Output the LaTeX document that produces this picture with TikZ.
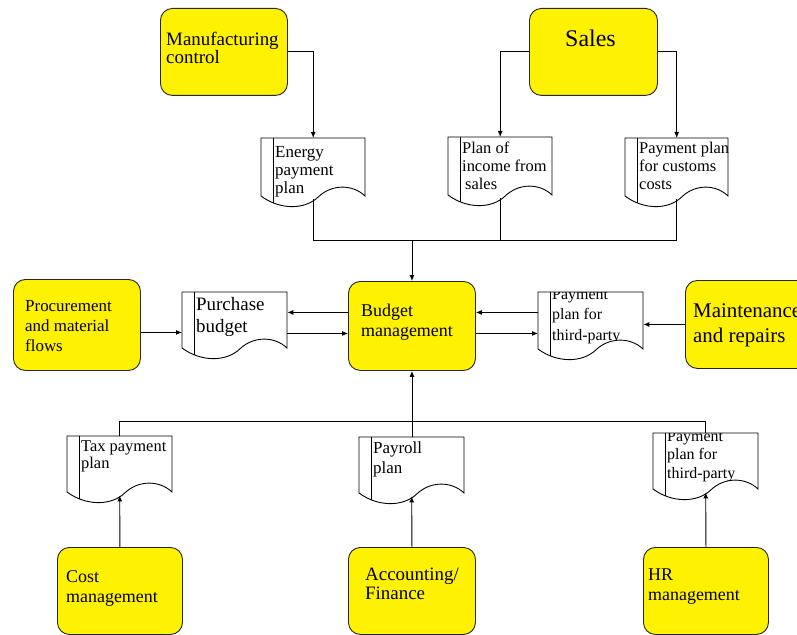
\documentclass[tikz,border=0pt]{standalone}
\usepackage{fontspec}
\setmainfont{Liberation Serif}
\usetikzlibrary{arrows.meta,calc}

\tikzset{
  x=1bp, y=-1bp,
  ybox/.style={draw=black!85, line width=0.9bp, fill=yellow, rounded corners=12bp,
               inner sep=0pt, anchor=north west},
  lbl/.style={anchor=base west, align=left, inner sep=0pt},
  conn/.style={line width=0.9bp, draw=black},
  arr/.style={conn, -{Latex[length=6bp,width=5bp]}},
  docarea/.style={inner sep=0pt, anchor=north west, draw=none},
}

% #1 name, #2 x0, #3 y0, #4 width, #5 side height, #6 last baseline offset, #7 font, #8 text
\newcommand\docshape[8]{%
  \node[docarea, minimum width=#4bp, minimum height=#5bp+3bp] (#1) at (#2,#3) {};
  \begin{scope}[shift={(#2,#3)}]
    \def\docpath{(0,#5) -- (0,0) -- (#4,0) -- (#4,#5)
      .. controls (0.88*#4,#5-12) and (0.68*#4,#5-12) .. (0.55*#4,#5+1)
      .. controls (0.42*#4,#5+14) and (0.18*#4,#5+14) .. (0,#5) -- cycle}
    \fill[white] \docpath;
    \begin{scope}
      \clip \docpath;
      \draw[conn] (12.5,0) -- (12.5,#5+20);
      \node[lbl, font=#7] (#1-t) at (14,#6) {#8};
    \end{scope}
    \draw[conn] \docpath;
  \end{scope}}

\begin{document}
\begin{tikzpicture}
\useasboundingbox (0,0) rectangle (797,635);
\clip (0,0) rectangle (797,635);
\fill[white] (0,0) rectangle (797,635);

% yellow boxes
\node[ybox, minimum width=127bp, minimum height=87bp] (mfg) at (160,8) {};
\node[ybox, minimum width=128bp, minimum height=87bp] (sales) at (529,8) {};
\node[ybox, minimum width=127bp, minimum height=91bp] (proc) at (13,279) {};
\node[ybox, minimum width=127bp, minimum height=89bp] (budget) at (348,281) {};
\node[ybox, minimum width=130bp, minimum height=88bp] (maint) at (685,280) {};
\node[ybox, minimum width=125bp, minimum height=87bp] (cost) at (57,547) {};
\node[ybox, minimum width=127bp, minimum height=87bp] (acct) at (348,547) {};
\node[ybox, minimum width=125bp, minimum height=87bp] (hr) at (643,547) {};

\node[lbl, font=\fontsize{19}{19}\selectfont] (mfg-t) at (166,64) {Manufacturing\\control};
\node[lbl, font=\fontsize{24}{26}\selectfont] (sales-t) at (565,47) {Sales};
\node[lbl, font=\fontsize{17}{20}\selectfont] (proc-t) at (25,351) {Procurement\\and material\\flows};
\node[lbl, font=\fontsize{18}{20}\selectfont] (budget-t) at (361,336) {Budget\\management};
\node[lbl, font=\fontsize{21}{25}\selectfont] (maint-t) at (693,342) {Maintenance\\and repairs};
\node[lbl, font=\fontsize{18}{20}\selectfont] (cost-t) at (66,602) {Cost\\management};
\node[lbl, font=\fontsize{19}{19}\selectfont] (acct-t) at (365,599) {Accounting/\\Finance};
\node[lbl, font=\fontsize{18}{20}\selectfont] (hr-t) at (648,600) {HR\\management};

% documents
\docshape{energy}{261}{138}{104}{58}{56}{\fontsize{17}{18.5}\selectfont}{Energy\\payment\\plan}
\docshape{income}{448}{137}{104}{58}{53}{\fontsize{16.5}{18.5}\selectfont}{Plan of\\income from\\\hspace{3bp}sales}
\docshape{customs}{625}{138}{103}{58}{52}{\fontsize{16.5}{18.5}\selectfont}{Payment plan\\for customs\\costs}
\docshape{purchase}{182}{292}{105}{56}{40}{\fontsize{19}{22}\selectfont}{Purchase\\budget}
\docshape{tpmid}{538}{292}{105}{57}{48}{\fontsize{16}{20.5}\selectfont}{Payment\\plan for\\third-party}
\docshape{tax}{67}{436}{105}{56}{32}{\fontsize{16.5}{17}\selectfont}{Tax payment\\plan}
\docshape{payroll}{359}{437}{105}{56}{36}{\fontsize{17}{20}\selectfont}{Payroll\\plan}
\docshape{hrdoc}{653}{433}{105}{56}{45}{\fontsize{16}{18.5}\selectfont}{Payment\\plan for\\third-party}

% top connectors
\draw[arr] (mfg.east) -| (energy.north);
\draw[arr] (sales.west) -| (income.north);
\draw[arr] (sales.east) -| (customs.north);
\coordinate (topbus) at (0,240);
\draw[conn] (energy.south) -- (energy.south |- topbus) -- (customs.south |- topbus) -- (customs.south);
\draw[conn] (income.south) -- (income.south |- topbus);
\draw[arr] (budget.north |- topbus) -- (budget.north);

% middle connectors
\draw[arr] ([yshift=13.5bp]budget.west) -- ([yshift=13.5bp]budget.west -| purchase.east);
\draw[arr] ([yshift=-7.5bp]budget.west -| purchase.east) -- ([yshift=-7.5bp]budget.west);
\draw[arr] ([yshift=13.5bp]budget.east -| tpmid.west) -- ([yshift=13.5bp]budget.east);
\draw[arr] ([yshift=-7.5bp]budget.east) -- ([yshift=-7.5bp]budget.east -| tpmid.west);
\draw[arr] ([yshift=-7.5bp]proc.east) -- ([yshift=-7.5bp]proc.east -| purchase.west);
\draw[arr] (maint.west) -- (maint.west -| tpmid.east);

% bottom connectors
\coordinate (botbus) at (0,421);
\draw[conn] (tax.north) -- (tax.north |- botbus) -- (hrdoc.north |- botbus) -- (hrdoc.north);
\draw[arr] (budget.south |- payroll.north) -- (budget.south);
\draw[arr] (cost.north) -- (tax.south);
\draw[arr] (acct.north) -- (payroll.south);
\draw[arr] (hr.north) -- (hrdoc.south);
\end{tikzpicture}
\end{document}
